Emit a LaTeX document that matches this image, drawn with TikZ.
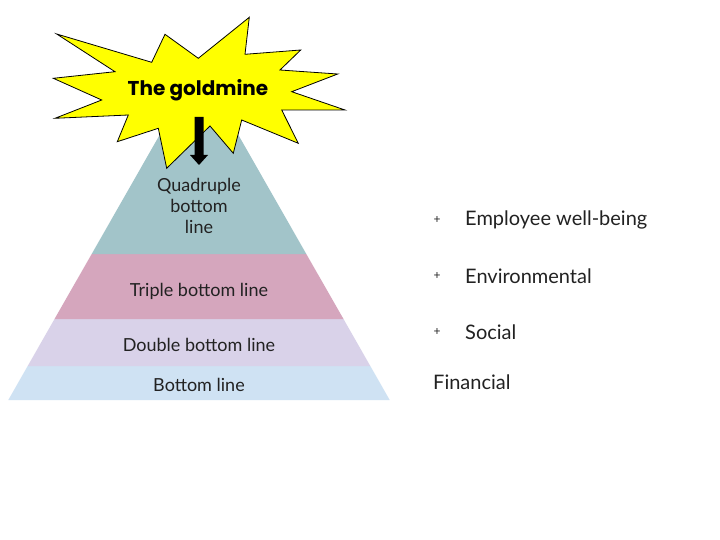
\documentclass[tikz,border=0pt]{standalone}
\usepackage{fontspec}
\setmainfont{Lato}
\newfontfamily\titlefont{Poppins}
\definecolor{teal1}{HTML}{A2C4C9}
\definecolor{pink1}{HTML}{D5A6BD}
\definecolor{lav1}{HTML}{D9D2E9}
\definecolor{blue1}{HTML}{CFE2F3}
\definecolor{txt}{HTML}{222222}
\definecolor{gold}{HTML}{FFFF00}
\tikzset{
  lbl/.style={text=txt, font=\fontsize{18}{21}\selectfont, align=center, inner sep=0pt},
  item/.style={text=txt, font=\fontsize{20}{24}\selectfont, anchor=west, inner sep=0pt},
  bul/.style={text=txt, font=\fontsize{12}{14}\selectfont, inner sep=0pt},
}
\begin{document}
\begin{tikzpicture}[x=1pt,y=-1pt]
\useasboundingbox (0,0) rectangle (720,540);
\fill[white] (0,0) rectangle (720,540);
% pyramid bands
\fill[blue1] (8.3,400) -- (389.7,400) -- (370.3,366) -- (27.7,366) -- cycle;
\fill[lav1] (27.7,366) -- (370.3,366) -- (343.5,319) -- (54.5,319) -- cycle;
\fill[pink1] (54.5,319) -- (343.5,319) -- (306.3,254) -- (91.7,254) -- cycle;
\fill[teal1] (91.7,254) -- (306.3,254) -- (199,66) -- cycle;
% labels
\node[lbl] (quad) at (199,206) {Quadruple\\bottom\\line};
\node[lbl] (triple) at (199,291) {Triple bottom line};
\node[lbl] (double) at (199,345) {Double bottom line};
\node[lbl] (bottom) at (199,385) {Bottom line};
% star
\draw[fill=gold, draw=black, line width=0.8pt, line join=miter]
 (56.7,34) -- (151.7,62.3) -- (165,34.3) -- (198.3,58.3) -- (249.3,17.3)
 -- (245,54.3) -- (300.7,50) -- (280,70) -- (337.7,74) -- (291.7,91.7)
 -- (345,110) -- (281.7,110) -- (298.3,143.3) -- (241.7,120) -- (233.3,153.3)
 -- (210,126) -- (166.7,168.3) -- (158.3,128.3) -- (117.3,141.7) -- (128.3,115)
 -- (55,118.3) -- (101.7,100) -- (53.3,78.3) -- (115,71.7) -- cycle;
\node[text=black, font=\titlefont\bfseries\fontsize{20}{24}\selectfont, inner sep=0pt] (gold) at (198,90) {The goldmine};
% block arrow
\coordinate (atop) at (199,117);
\coordinate (atip) at (199,165);
\fill[black] (194.5,117) -- (203.5,117) -- (203.5,155) -- (208,155) -- (atip) -- (190,155) -- (194.5,155) -- cycle;
% right list
\node[bul] (b1) at (437,220) {+};
\node[item] (t1) at (465,220) {Employee well-being};
\node[bul] (b2) at (437,276) {+};
\node[item] (t2) at (465,276) {Environmental};
\node[bul] (b3) at (437,332) {+};
\node[item] (t3) at (465,332) {Social};
\node[item] (t4) at (433,382) {Financial};
\end{tikzpicture}
\end{document}
